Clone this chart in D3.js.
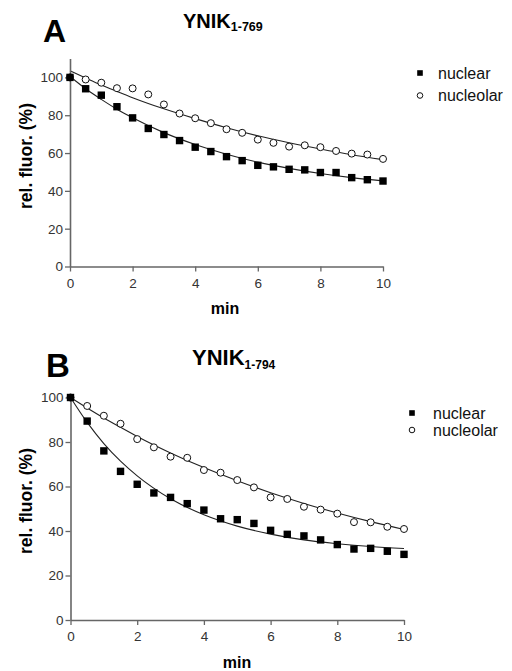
<!DOCTYPE html>
<html>
<head>
<meta charset="utf-8">
<script src="https://cdn.jsdelivr.net/npm/d3@7"></script>
<style>
  body { margin: 0; background: #fff; }
  text { font-family: "Liberation Sans", Arial, sans-serif; }
</style>
</head>
<body>
<script>
const width = 512;
const height = 671;

// time points (min)
const times = [0, 0.5, 1, 1.5, 2, 2.5, 3, 3.5, 4, 4.5, 5, 5.5, 6, 6.5, 7, 7.5, 8, 8.5, 9, 9.5, 10];
const fitTimes = [0, 0.5, 1, 1.5, 2, 3, 4, 5, 6, 7, 8, 9, 10];

// panel A  (YNIK 1-769)
const nuclearA   = [100, 94.0, 90.6, 84.5, 78.6, 73.0, 69.8, 66.6, 63.1, 60.8, 58.1, 56.0, 53.5, 52.7, 51.4, 51.1, 49.7, 49.7, 47.0, 45.9, 45.2];
const nucleolarA = [100, 98.9, 97.2, 94.3, 94.2, 91.0, 85.7, 80.9, 78.4, 75.8, 72.6, 70.7, 67.1, 65.4, 63.4, 64.1, 63.1, 61.1, 59.7, 59.2, 56.9];
const fitNuclearA   = [100.5, 94.0, 88.4, 83.2, 78.7, 70.8, 64.5, 59.4, 55.2, 51.9, 49.2, 47.0, 45.3];
const fitNucleolarA = [103.5, 99.7, 96.0, 92.6, 89.3, 83.4, 78.2, 73.4, 69.1, 65.4, 62.1, 59.1, 56.5];

// panel B  (YNIK 1-794)
const nuclearB   = [100, 89.4, 76.0, 66.8, 61.0, 57.1, 55.1, 52.3, 49.4, 45.5, 45.1, 43.4, 40.3, 38.5, 37.8, 36.0, 33.9, 31.9, 32.2, 30.9, 29.5];
const nucleolarB = [100, 96.2, 91.8, 88.2, 81.3, 77.6, 73.4, 72.9, 67.4, 66.2, 62.9, 59.6, 55.1, 54.4, 50.9, 49.6, 47.8, 44.0, 43.9, 41.9, 40.9];
const fitNuclearB   = [100, 88.8, 79.3, 71.4, 64.8, 54.5, 47.3, 42.2, 38.6, 36.0, 34.3, 33.0, 32.1];
const fitNucleolarB = [100, 95.3, 90.8, 86.6, 82.5, 75.1, 68.5, 62.6, 57.2, 52.4, 48.1, 44.2, 40.7];

const xTicks = [0, 2, 4, 6, 8, 10];
const yTicks = [0, 20, 40, 60, 80, 100];
const seriesNames = ["nuclear", "nucleolar"];

const svg = d3.select("body").append("svg")
    .attr("width", width)
    .attr("height", height);

function drawPanel(p) {
    const g = svg.append("g");

    const x = d3.scaleLinear().domain([0, 10]).range(p.xRange);
    const y = d3.scaleLinear().domain(p.yDomain).range(p.yRange);

    // fitted curves
    const line = d3.line()
        .x(d => x(d[0]))
        .y(d => y(d[1]))
        .curve(d3.curveMonotoneX);

    [p.fitNuclear, p.fitNucleolar].forEach(fit => {
        g.append("path")
            .datum(fitTimes.map((t, i) => [t, fit[i]]))
            .attr("d", line)
            .attr("fill", "none")
            .attr("stroke", "#222")
            .attr("stroke-width", 1.1);
    });

    // axes
    const xAxis = g.append("g")
        .attr("transform", `translate(0,${p.yRange[0]})`)
        .call(d3.axisBottom(x).tickValues(xTicks).tickSize(5).tickSizeOuter(0));
    const yAxis = g.append("g")
        .attr("transform", `translate(${p.xRange[0]},0)`)
        .call(d3.axisLeft(y).tickValues(yTicks).tickSize(5).tickSizeOuter(0));

    [xAxis, yAxis].forEach(a => {
        a.select(".domain").attr("stroke", "#666").attr("stroke-width", 1.6);
        a.selectAll(".tick line").attr("stroke", "#666").attr("stroke-width", 1.3);
        a.selectAll(".tick text")
            .attr("fill", "#333")
            .style("font-size", "13.5px")
            .style("font-family", "Liberation Sans, Arial, sans-serif");
    });
    xAxis.selectAll(".tick text").attr("dy", "0.95em").attr("y", 8.5);
    yAxis.selectAll(".tick text").attr("x", -7);

    // data points
    g.append("g").selectAll("circle")
        .data(times.map((t, i) => [t, p.nucleolar[i]]))
        .join("circle")
        .attr("cx", d => x(d[0]))
        .attr("cy", d => y(d[1]))
        .attr("r", 3.5)
        .attr("fill", "#fff")
        .attr("stroke", "#111")
        .attr("stroke-width", 1);

    g.append("g").selectAll("rect")
        .data(times.map((t, i) => [t, p.nuclear[i]]))
        .join("rect")
        .attr("x", d => x(d[0]) - 3.7)
        .attr("y", d => y(d[1]) - 3.7)
        .attr("width", 7.4)
        .attr("height", 7.4)
        .attr("fill", "#000");

    // axis labels
    g.append("text")
        .attr("x", p.minX)
        .attr("y", p.minY)
        .attr("text-anchor", "middle")
        .style("font-size", "16px")
        .style("font-weight", "bold")
        .text("min");

    g.append("text")
        .attr("transform", `translate(32,${p.labelY}) rotate(-90)`)
        .attr("text-anchor", "middle")
        .style("font-size", "17.5px")
        .style("font-weight", "bold")
        .text("rel. fluor. (%)");

    // panel letter
    g.append("text")
        .attr("x", p.letterX)
        .attr("y", p.letterY)
        .style("font-size", p.letterSize + "px")
        .style("font-weight", "bold")
        .text(p.letter);

    // title with subscript
    const title = g.append("text")
        .attr("x", p.titleX)
        .attr("y", p.titleY)
        .style("font-size", p.titleSize + "px")
        .style("font-weight", "bold");
    title.append("tspan").text("YNIK");
    title.append("tspan")
        .attr("dy", p.subDy)
        .style("font-size", p.subSize + "px")
        .text(p.sub);

    // legend
    const lg = g.append("g");
    seriesNames.forEach((name, i) => {
        const ly = p.legendY[i];
        if (i === 0) {
            lg.append("rect")
                .attr("x", p.legendX - 2.8).attr("y", ly - 2.8)
                .attr("width", 5.6).attr("height", 5.6)
                .attr("fill", "#000");
        } else {
            lg.append("circle")
                .attr("cx", p.legendX).attr("cy", ly)
                .attr("r", 2.8)
                .attr("fill", "#fff")
                .attr("stroke", "#111");
        }
        lg.append("text")
            .attr("x", p.legendTextX)
            .attr("y", ly)
            .attr("dy", "0.35em")
            .style("font-size", "16px")
            .attr("fill", "#111")
            .text(name);
    });
}

drawPanel({
    letter: "A", letterX: 43, letterY: 42, letterSize: 32,
    sub: "1-769", titleX: 183, titleY: 27.5, titleSize: 20, subSize: 12.5, subDy: 3.5,
    xRange: [70, 383], yDomain: [0, 110], yRange: [266.5, 58.5],
    nuclear: nuclearA, nucleolar: nucleolarA,
    fitNuclear: fitNuclearA, fitNucleolar: fitNucleolarA,
    minX: 225, minY: 314, labelY: 156,
    legendX: 420, legendTextX: 438, legendY: [73, 95.5]
});

drawPanel({
    letter: "B", letterX: 46, letterY: 377, letterSize: 33,
    sub: "1-794", titleX: 192, titleY: 365, titleSize: 22, subSize: 12, subDy: 4,
    xRange: [70.5, 404], yDomain: [0, 100], yRange: [620, 397.5],
    nuclear: nuclearB, nucleolar: nucleolarB,
    fitNuclear: fitNuclearB, fitNucleolar: fitNucleolarB,
    minX: 237, minY: 668, labelY: 501,
    legendX: 412, legendTextX: 433, legendY: [413, 430]
});
</script>
</body>
</html>
